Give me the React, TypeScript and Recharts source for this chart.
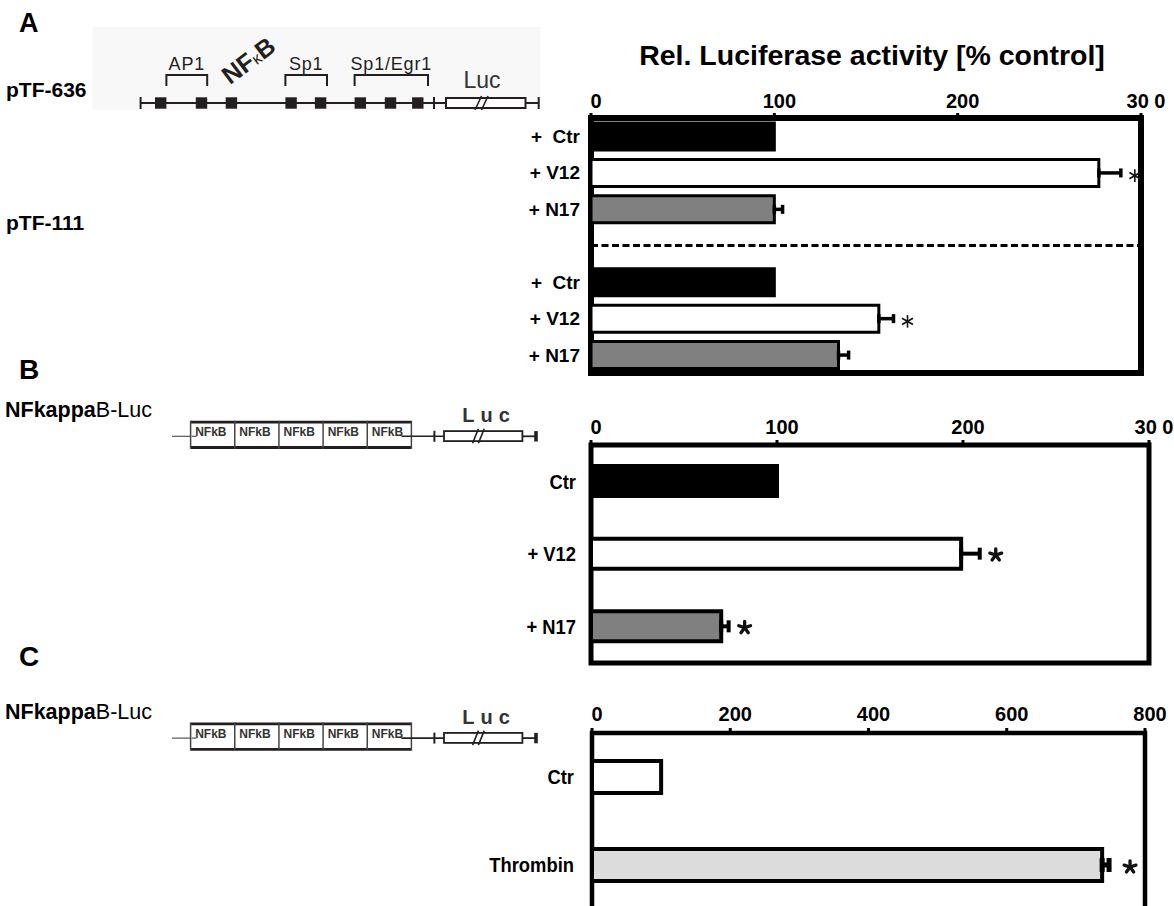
import {
  BarChart,
  Bar,
  XAxis,
  YAxis,
  Cell,
  ErrorBar,
  ReferenceArea,
  ReferenceLine,
  ReferenceDot,
} from "recharts";

// Panel A: pTF-636 (top group) and pTF-111 (bottom group), split by an empty row
const A_KEYS = ["ctr636", "v12636", "n17636", "split", "ctr111", "v12111", "n17111"];
const A_LABELS = ["+  Ctr", "+ V12", "+ N17", "", "+  Ctr", "+ V12", "+ N17"];
const A_TREAT = ["Ctr", "V12", "N17", null, "Ctr", "V12", "N17"];
const A_VALUES = [100, 277, 100, null, 100, 157, 135];
const A_SEM = [null, 12, 4.5, null, null, 8, 5.5];
const A_SIG = [false, true, false, false, false, true, false];
const A_TICKS = [0, 100, 200, 300];
const A_TICK_LABELS = ["0", "100", "200", "30 0"];

// Panel B: NFkappaB-Luc with Ras mutants
const B_KEYS = ["ctr", "v12", "n17"];
const B_LABELS = ["Ctr", "+ V12", "+ N17"];
const B_TREAT = ["Ctr", "V12", "N17"];
const B_VALUES = [100, 199, 70];
const B_SEM = [null, 10, 4];
const B_SIG = [false, true, true];
const B_TICKS = [0, 100, 200, 300];
const B_TICK_LABELS = ["0", "100", "200", "30 0"];

// Panel C: NFkappaB-Luc with thrombin
const C_KEYS = ["ctr", "thrombin"];
const C_LABELS = ["Ctr", "Thrombin"];
const C_TREAT = ["Ctr", "Thrombin"];
const C_VALUES = [100, 738];
const C_SEM = [null, 10];
const C_SIG = [false, true];
const C_TICKS = [0, 200, 400, 600, 800];
const C_TICK_LABELS = ["0", "200", "400", "600", "800"];

const RAS_FILLS: Record<string, string> = { Ctr: "#000000", V12: "#ffffff", N17: "#808080" };
const THROMBIN_FILLS: Record<string, string> = { Ctr: "#ffffff", Thrombin: "#dcdcdc" };

const INK = "#231f20";
const FONT = 'Arial, "Liberation Sans", Helvetica, sans-serif';

function Asterisk({ cx, cy, heavy }: { cx: number; cy: number; heavy: boolean }) {
  const lines = [];
  if (heavy) {
    const r = 6.2;
    for (let k = 0; k < 5; k++) {
      const a = ((-90 + k * 72) * Math.PI) / 180;
      lines.push(<line key={k} x1={cx} y1={cy} x2={cx + r * Math.cos(a)} y2={cy + r * Math.sin(a)} />);
    }
  } else {
    const r = 6.3;
    for (let k = 0; k < 3; k++) {
      const a = ((90 + k * 60) * Math.PI) / 180;
      lines.push(
        <line
          key={k}
          x1={cx - r * Math.cos(a)}
          y1={cy - r * Math.sin(a)}
          x2={cx + r * Math.cos(a)}
          y2={cy + r * Math.sin(a)}
        />
      );
    }
  }
  return (
    <g stroke="#111" strokeWidth={heavy ? 3.3 : 1.6} strokeLinecap={heavy ? "round" : "butt"}>
      {lines}
    </g>
  );
}

interface PanelLayout {
  top: number;
  height: number;
  margin: { top: number; right: number; bottom: number; left: number };
  yWidth: number;
  tickMargin: number;
  labelGap: number;
  labelSize: number;
  labelScale: number;
  frame: number;
  barSize: number;
  barStroke: number;
  cap: number;
  errStroke: number;
  starGap: number;
  starDy: number;
  heavyStar: boolean;
}

interface PanelProps {
  keys: string[];
  labels: string[];
  treat: (string | null)[];
  values: (number | null)[];
  sem: (number | null)[];
  sig: boolean[];
  ticks: number[];
  tickLabels: string[];
  fills: Record<string, string>;
  layout: PanelLayout;
  splitKey?: string;
}

function Panel({ keys, labels, treat, values, sem, sig, ticks, tickLabels, fills, layout, splitKey }: PanelProps) {
  const rows = keys.map((key, i) => ({
    key,
    value: values[i],
    err: sem[i] == null ? null : [0, sem[i] as number],
  }));
  const max = ticks[ticks.length - 1];

  return (
    <div style={{ position: "absolute", left: 0, top: layout.top }}>
      <BarChart width={1174} height={layout.height} data={rows} layout="vertical" margin={layout.margin}>
        <XAxis
          type="number"
          orientation="top"
          domain={[0, max]}
          ticks={ticks}
          interval={0}
          height={40}
          axisLine={false}
          tickLine={{ stroke: "#000", strokeWidth: 3 }}
          tickSize={5}
          tickMargin={layout.tickMargin}
          tick={(p: any) => (
            <text x={p.x + 5} y={p.y} textAnchor="middle" fontSize={20} fontWeight={700} fill="#000">
              {tickLabels[ticks.indexOf(p.payload.value)]}
            </text>
          )}
        />
        <YAxis
          type="category"
          dataKey="key"
          width={layout.yWidth}
          axisLine={false}
          tickLine={false}
          tickSize={0}
          tickMargin={layout.labelGap}
          interval={0}
          tick={(p: any) => {
            const label = labels[keys.indexOf(p.payload.value)];
            if (!label) return <g />;
            return (
              <g transform={`translate(${p.x},${p.y}) scale(${layout.labelScale},1)`}>
                <text
                  x={0}
                  y={0}
                  dy="0.36em"
                  textAnchor="end"
                  fontSize={layout.labelSize}
                  fontWeight={700}
                  fill="#000"
                  style={{ whiteSpace: "pre" }}
                >
                  {label}
                </text>
              </g>
            );
          }}
        />
        <ReferenceArea x1={0} x2={max} fill="none" fillOpacity={0} stroke="#000" strokeWidth={layout.frame} />
        {splitKey && (
          <ReferenceLine y={splitKey} stroke="#000" strokeWidth={3} strokeDasharray="7 3.5" />
        )}
        <Bar
          dataKey="value"
          barSize={layout.barSize}
          stroke="#000"
          strokeWidth={layout.barStroke}
          isAnimationActive={false}
        >
          {rows.map((r, i) => (
            <Cell key={r.key} fill={treat[i] ? fills[treat[i] as string] : "none"} />
          ))}
          <ErrorBar
            dataKey="err"
            direction="x"
            width={layout.cap}
            stroke="#000"
            strokeWidth={layout.errStroke}
            isAnimationActive={false}
          />
        </Bar>
        {rows.map((r, i) =>
          sig[i] ? (
            <ReferenceDot
              key={`sig-${r.key}`}
              x={(values[i] as number) + (sem[i] ?? 0)}
              y={r.key}
              r={0}
              ifOverflow="visible"
              shape={(p: any) => (
                <Asterisk cx={p.cx + layout.starGap} cy={p.cy + layout.starDy} heavy={layout.heavyStar} />
              )}
            />
          ) : null
        )}
      </BarChart>
    </div>
  );
}

const LAYOUT_A: PanelLayout = {
  top: 0,
  height: 380,
  margin: { top: 78, right: 33, bottom: 7, left: 0 },
  yWidth: 591,
  tickMargin: 5,
  labelGap: 11,
  labelSize: 19,
  labelScale: 1,
  frame: 6,
  barSize: 27,
  barStroke: 3,
  cap: 4.5,
  errStroke: 3.5,
  starGap: 14,
  starDy: 3,
  heavyStar: false,
};

const LAYOUT_B: PanelLayout = {
  top: 380,
  height: 290,
  margin: { top: 25, right: 25, bottom: 7, left: 0 },
  yWidth: 591,
  tickMargin: 6,
  labelGap: 15,
  labelSize: 20,
  labelScale: 0.92,
  frame: 5,
  barSize: 30,
  barStroke: 4,
  cap: 6,
  errStroke: 4,
  starGap: 16,
  starDy: 1,
  heavyStar: true,
};

const LAYOUT_C: PanelLayout = {
  top: 670,
  height: 245,
  margin: { top: 23, right: 29, bottom: 6, left: 0 },
  yWidth: 592,
  tickMargin: 7,
  labelGap: 18,
  labelSize: 20,
  labelScale: 0.92,
  frame: 4.5,
  barSize: 32,
  barStroke: 4,
  cap: 7,
  errStroke: 5,
  starGap: 21,
  starDy: 2,
  heavyStar: true,
};

// pTF-636 promoter map with transcription factor sites
function PromoterMap() {
  const y = 103;
  const sites = [160.7, 201.5, 231.4, 291.1, 320.6, 360.3, 390.5, 417.8];
  const brackets = [
    { from: 166.4, to: 207.2, label: "AP1" },
    { from: 285.4, to: 327, label: "Sp1" },
    { from: 354.6, to: 428, label: "Sp1/Egr1" },
  ];
  return (
    <g>
      <rect x={92.6} y={27} width={448} height={83} fill="#f8f8f8" />
      <line x1={140.6} y1={y} x2={446} y2={y} stroke={INK} strokeWidth={2} />
      <line x1={140.6} y1={97} x2={140.6} y2={109} stroke={INK} strokeWidth={2} />
      {sites.map((cx) => (
        <rect key={cx} x={cx - 5.7} y={y - 5.7} width={11.4} height={11.4} fill={INK} />
      ))}
      <line x1={434} y1={97} x2={434} y2={109} stroke={INK} strokeWidth={2} />
      <rect x={446} y={98} width={79.5} height={10} fill="#fff" stroke={INK} strokeWidth={2} />
      <line x1={475} y1={110} x2={481.5} y2={96} stroke={INK} strokeWidth={1.6} />
      <line x1={481.5} y1={110} x2={488} y2={96} stroke={INK} strokeWidth={1.6} />
      <line x1={525.5} y1={y} x2={538.7} y2={y} stroke={INK} strokeWidth={2} />
      <line x1={538.7} y1={97} x2={538.7} y2={109} stroke={INK} strokeWidth={2} />
      {brackets.map((b) => (
        <g key={b.label}>
          <path d={`M${b.from} 86 V75 H${b.to} V86`} fill="none" stroke={INK} strokeWidth={2} />
          <text x={(b.from + b.to) / 2} y={70} textAnchor="middle" fontSize={18} letterSpacing={0.8} fill={INK}>
            {b.label}
          </text>
        </g>
      ))}
      <text x={482} y={88} textAnchor="middle" fontSize={23} fill="#333">
        Luc
      </text>
      <text
        transform="translate(249,61) rotate(-37)"
        x={0}
        y={8}
        textAnchor="middle"
        fontSize={25}
        fontWeight={700}
        fill={INK}
      >
        NF<tspan fontSize={16} fontWeight={400}>κ</tspan>B
      </text>
    </g>
  );
}

// 5x NF-kB reporter construct
function NfkbConstruct({ top }: { top: number }) {
  const mid = top + 15.6;
  const left = 190.6;
  const cellW = 44.16;
  const cells = [0, 1, 2, 3, 4].map((k) => left + k * cellW);
  const right = left + 5 * cellW;
  return (
    <g>
      <line x1={172} y1={mid} x2={197} y2={mid} stroke="#555" strokeWidth={1.2} />
      <rect x={left} y={top} width={right - left} height={28} fill="#fff" stroke="none" />
      <line x1={left} y1={top + 1.4} x2={right} y2={top + 1.4} stroke={INK} strokeWidth={2.8} />
      <line x1={left} y1={top + 26.8} x2={right} y2={top + 26.8} stroke={INK} strokeWidth={2.8} />
      {[...cells, right].map((x) => (
        <line key={x} x1={x} y1={top} x2={x} y2={top + 28} stroke="#444" strokeWidth={1.5} />
      ))}
      {cells.map((x) => (
        <text key={`t${x}`} x={x + 4.6} y={top + 15.4} fontSize={12} fontWeight={700} fill="#333">
          NFkB
        </text>
      ))}
      <line x1={left + 1} y1={mid} x2={left + 6} y2={mid} stroke="#555" strokeWidth={1.2} />
      <line x1={401.5} y1={mid} x2={444} y2={mid} stroke={INK} strokeWidth={1.6} />
      <line x1={434.4} y1={mid - 5.5} x2={434.4} y2={mid + 5.5} stroke={INK} strokeWidth={2} />
      <rect x={444} y={mid - 5.2} width={78.4} height={10} fill="#fff" stroke={INK} strokeWidth={1.8} />
      <line x1={472.6} y1={mid + 7} x2={478.4} y2={mid - 7.5} stroke={INK} strokeWidth={1.6} />
      <line x1={478.4} y1={mid + 7} x2={484.2} y2={mid - 7.5} stroke={INK} strokeWidth={1.6} />
      <line x1={522.4} y1={mid} x2={536} y2={mid} stroke={INK} strokeWidth={1.8} />
      <line x1={536} y1={mid - 5.2} x2={536} y2={mid + 5.2} stroke={INK} strokeWidth={3.6} />
      <text x={489} y={top + 1} textAnchor="middle" fontSize={20} fontWeight={700} letterSpacing={6} fill="#333">
        Luc
      </text>
    </g>
  );
}

function ConstructName({ y }: { y: number }) {
  return (
    <text x={5} y={y} fontSize={21.5} fill="#000">
      <tspan fontWeight={700}>NFkappa</tspan>
      <tspan fontWeight={400}>B-Luc</tspan>
    </text>
  );
}

function Annotations() {
  return (
    <svg width={1174} height={906} style={{ position: "absolute", left: 0, top: 0 }}>
      <text x={19} y={32} fontSize={27} fontWeight={700}>A</text>
      <text x={19} y={378.5} fontSize={28} fontWeight={700}>B</text>
      <text x={19} y={666} fontSize={28} fontWeight={700}>C</text>
      <text x={872} y={65} textAnchor="middle" fontSize={28.5} fontWeight={700}>
        Rel. Luciferase activity [% control]
      </text>
      <text x={6} y={97} fontSize={21} fontWeight={700}>pTF-636</text>
      <text x={6} y={230} fontSize={21} fontWeight={700}>pTF-111</text>
      <PromoterMap />
      <ConstructName y={417} />
      <NfkbConstruct top={420.7} />
      <ConstructName y={719} />
      <NfkbConstruct top={722.5} />
    </svg>
  );
}

export default function App() {
  return (
    <div
      style={{
        position: "absolute",
        left: 0,
        top: 0,
        width: 1174,
        height: 906,
        overflow: "hidden",
        background: "#fff",
        fontFamily: FONT,
      }}
    >
      <Annotations />
      <Panel
        keys={A_KEYS}
        labels={A_LABELS}
        treat={A_TREAT}
        values={A_VALUES}
        sem={A_SEM}
        sig={A_SIG}
        ticks={A_TICKS}
        tickLabels={A_TICK_LABELS}
        fills={RAS_FILLS}
        layout={LAYOUT_A}
        splitKey="split"
      />
      <Panel
        keys={B_KEYS}
        labels={B_LABELS}
        treat={B_TREAT}
        values={B_VALUES}
        sem={B_SEM}
        sig={B_SIG}
        ticks={B_TICKS}
        tickLabels={B_TICK_LABELS}
        fills={RAS_FILLS}
        layout={LAYOUT_B}
      />
      <Panel
        keys={C_KEYS}
        labels={C_LABELS}
        treat={C_TREAT}
        values={C_VALUES}
        sem={C_SEM}
        sig={C_SIG}
        ticks={C_TICKS}
        tickLabels={C_TICK_LABELS}
        fills={THROMBIN_FILLS}
        layout={LAYOUT_C}
      />
    </div>
  );
}
